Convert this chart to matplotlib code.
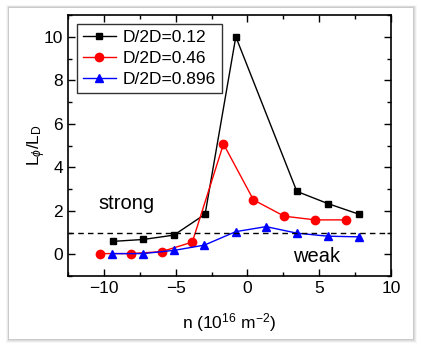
import matplotlib
matplotlib.use('Agg')
import matplotlib.pyplot as plt
from matplotlib.patches import Rectangle
from matplotlib.ticker import MultipleLocator

plt.rcParams['font.family'] = ['Liberation Sans', 'DejaVu Sans']
plt.rcParams['mathtext.fontset'] = 'custom'
plt.rcParams['mathtext.rm'] = 'Liberation Sans'
plt.rcParams['mathtext.it'] = 'Liberation Sans:italic'

# --- data ---
n_012 = [-9.40, -7.26, -5.12, -2.95, -0.81, 3.44, 5.60, 7.77]
L_012 = [0.59, 0.68, 0.88, 1.84, 10.0, 2.89, 2.33, 1.84]

n_046 = [-10.28, -8.14, -5.98, -3.84, -1.67, 0.42, 2.56, 4.72, 6.88]
L_046 = [0.03, 0.03, 0.12, 0.56, 5.07, 2.50, 1.75, 1.58, 1.58]

n_0896 = [-9.44, -7.26, -5.09, -3.00, -0.81, 1.30, 3.44, 5.60, 7.79]
L_0896 = [0.03, 0.03, 0.18, 0.42, 1.04, 1.27, 0.97, 0.83, 0.80]

labels = ['D/2D=0.12', 'D/2D=0.46', 'D/2D=0.896']

fig = plt.figure(figsize=(4.21, 3.47), dpi=100)
fig.patch.set_facecolor('white')

# card frame with soft shadow
for i, a in enumerate([0.03, 0.05, 0.06, 0.08]):
    d = (4 - i) / 421
    fig.patches.append(Rectangle((9 / 421 - d * 0.7, 8 / 347 - d * 1.2), 404 / 421 + d * 1.6, 331 / 347 + d * 2.2,
                                 transform=fig.transFigure, facecolor='black', alpha=a,
                                 edgecolor='none', zorder=0))
fig.patches.append(Rectangle((9 / 421, 8 / 347), 404 / 421, 331 / 347, transform=fig.transFigure,
                             facecolor='white', edgecolor='none', zorder=1))

ax = fig.add_axes([68 / 421, 1 - 276 / 347, 323 / 421, 261 / 347])
ax.set_zorder(2)
ax.patch.set_alpha(0)

ax.plot(n_012, L_012, '-s', color='black', lw=1.0, ms=5, label=labels[0])
ax.plot(n_046, L_046, '-o', color='red', lw=1.0, ms=6, label=labels[1])
ax.plot(n_0896, L_0896, '-^', color='blue', lw=1.0, ms=6, label=labels[2])
ax.axhline(1.0, color='black', ls='--', lw=1.0, dashes=(4, 3))

ax.text(-8.4, 2.35, 'strong', fontsize=14.5, ha='center', va='center')
ax.text(4.84, -0.12, 'weak', fontsize=14.5, ha='center', va='center')

ax.set_xlim(-12.5, 10)
ax.set_ylim(-1, 11)
ax.xaxis.set_major_locator(MultipleLocator(5))
ax.xaxis.set_minor_locator(MultipleLocator(2.5))
ax.yaxis.set_major_locator(MultipleLocator(2))
ax.yaxis.set_minor_locator(MultipleLocator(1))
ax.tick_params(which='both', direction='in', top=True, right=True, labelsize=12.5, width=1.0)
ax.tick_params(which='major', length=5)
ax.tick_params(which='minor', length=3)
for s in ax.spines.values():
    s.set_linewidth(1.2)

ax.set_xlabel(r'n (10$^{\mathregular{16}}$ m$^{\mathregular{-2}}$)', fontsize=12.5, labelpad=11)
ax.set_ylabel(r'L$_\phi$/L$_\mathregular{D}$', fontsize=12.5, labelpad=-3)

leg = ax.legend(loc='upper left', fontsize=12.5, frameon=True, fancybox=False,
                borderpad=0.35, labelspacing=0.35, handlelength=1.9, handletextpad=0.4,
                borderaxespad=0.5)
leg.get_frame().set_edgecolor('black')
leg.get_frame().set_linewidth(1.0)

fig.savefig('out.png', dpi=100)
